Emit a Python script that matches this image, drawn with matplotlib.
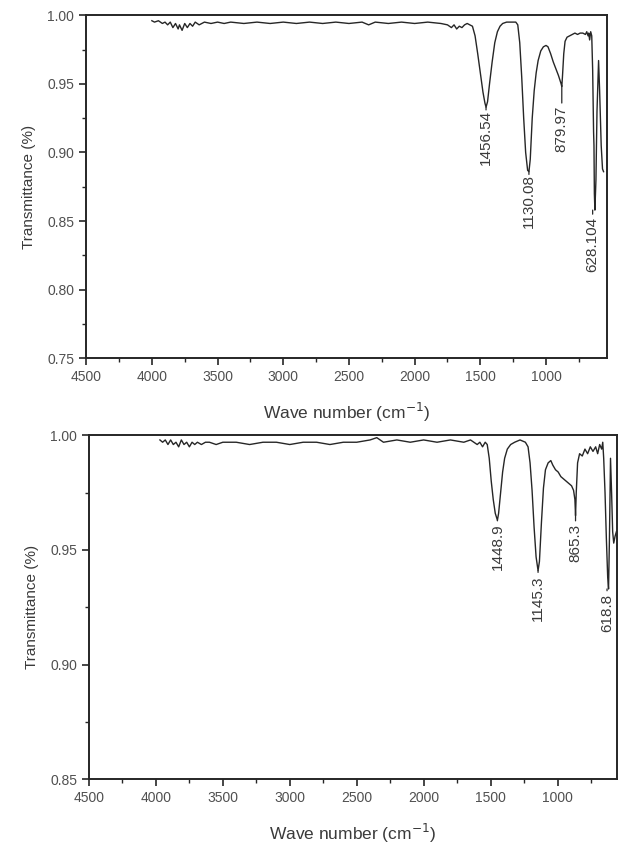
import matplotlib
matplotlib.use("Agg")

import matplotlib.pyplot as plt
from matplotlib.ticker import MultipleLocator, FormatStrFormatter

plt.rcParams['font.family'] = ['Liberation Sans', 'DejaVu Sans']

# upper spectrum (wavenumber cm-1, transmittance)
top_wn = [4000, 3980, 3950, 3920, 3900, 3880, 3860, 3840, 3820, 3800, 3790, 3770,
          3750, 3730, 3710, 3690, 3670, 3640, 3600, 3550, 3500, 3450, 3400, 3300,
          3200, 3100, 3000, 2900, 2800, 2700, 2600, 2500, 2400, 2350, 2300, 2200,
          2100, 2000, 1900, 1800, 1750, 1720, 1700, 1680, 1660, 1640, 1620, 1600,
          1580, 1560, 1540, 1520, 1500, 1480, 1465, 1456.54, 1445, 1430, 1410, 1390,
          1370, 1350, 1330, 1300, 1260, 1230, 1215, 1200, 1185, 1170, 1155, 1140,
          1130, 1120, 1105, 1090, 1075, 1060, 1040, 1020, 1000, 985, 965, 945,
          925, 905, 895, 885, 880, 875, 865, 855, 840, 820, 800, 780,
          760, 740, 720, 700, 690, 680, 675, 668, 660, 652, 645, 638,
          635, 632, 628, 620, 612, 600, 592, 580, 570, 562]
top_tr = [0.996, 0.995, 0.996, 0.994, 0.995, 0.993, 0.995, 0.991, 0.994, 0.990, 0.993, 0.989,
          0.994, 0.991, 0.994, 0.992, 0.995, 0.993, 0.995, 0.994, 0.995, 0.994, 0.995, 0.994,
          0.995, 0.994, 0.995, 0.994, 0.995, 0.994, 0.995, 0.994, 0.995, 0.993, 0.995, 0.994,
          0.995, 0.994, 0.995, 0.994, 0.993, 0.991, 0.993, 0.990, 0.992, 0.991, 0.993, 0.994,
          0.993, 0.992, 0.985, 0.972, 0.958, 0.944, 0.936, 0.933, 0.937, 0.950, 0.966, 0.980,
          0.988, 0.992, 0.994, 0.995, 0.995, 0.995, 0.993, 0.980, 0.955, 0.925, 0.900, 0.887,
          0.886, 0.895, 0.925, 0.945, 0.958, 0.967, 0.974, 0.977, 0.978, 0.977, 0.972, 0.966,
          0.961, 0.956, 0.953, 0.950, 0.948, 0.955, 0.972, 0.981, 0.984, 0.985, 0.986, 0.987,
          0.986, 0.987, 0.987, 0.986, 0.988, 0.985, 0.987, 0.982, 0.988, 0.985, 0.960, 0.915,
          0.905, 0.870, 0.858, 0.880, 0.930, 0.967, 0.945, 0.905, 0.888, 0.886]

# lower spectrum
bot_wn = [3970, 3950, 3930, 3910, 3890, 3870, 3850, 3830, 3810, 3790, 3770, 3750,
          3730, 3710, 3690, 3660, 3630, 3600, 3550, 3500, 3400, 3300, 3200, 3100,
          3000, 2900, 2800, 2700, 2600, 2500, 2400, 2350, 2300, 2200, 2100, 2000,
          1900, 1800, 1700, 1650, 1600, 1580, 1560, 1540, 1525, 1510, 1495, 1480,
          1465, 1448.9, 1440, 1425, 1410, 1395, 1375, 1350, 1320, 1280, 1240, 1220,
          1205, 1190, 1175, 1160, 1145.3, 1135, 1120, 1105, 1090, 1070, 1050, 1035,
          1015, 995, 975, 955, 935, 915, 895, 880, 870, 865.3, 860, 850,
          835, 815, 795, 775, 755, 735, 715, 700, 685, 670, 662, 655,
          645, 635, 625, 618.8, 612, 604, 596, 588, 580, 570, 560]
bot_tr = [0.998, 0.997, 0.998, 0.996, 0.998, 0.996, 0.997, 0.995, 0.998, 0.996, 0.997, 0.995,
          0.997, 0.996, 0.997, 0.996, 0.997, 0.997, 0.996, 0.997, 0.997, 0.996, 0.997, 0.997,
          0.996, 0.997, 0.997, 0.996, 0.997, 0.997, 0.998, 0.999, 0.997, 0.998, 0.997, 0.998,
          0.997, 0.998, 0.997, 0.998, 0.996, 0.997, 0.995, 0.997, 0.996, 0.990, 0.980, 0.972,
          0.966, 0.963, 0.966, 0.975, 0.984, 0.990, 0.994, 0.996, 0.997, 0.998, 0.997, 0.995,
          0.988, 0.976, 0.960, 0.947, 0.941, 0.945, 0.962, 0.977, 0.985, 0.988, 0.989, 0.987,
          0.985, 0.984, 0.982, 0.981, 0.980, 0.979, 0.978, 0.976, 0.972, 0.965, 0.975, 0.988,
          0.992, 0.991, 0.994, 0.992, 0.995, 0.993, 0.995, 0.992, 0.996, 0.994, 0.997, 0.990,
          0.975, 0.955, 0.938, 0.933, 0.955, 0.990, 0.975, 0.958, 0.953, 0.956, 0.958]

# peak labels: (position, curve value, label top value, text)
top_peaks = [(1456.54, 0.933, 0.931, "1456.54"), (1130.08, 0.886, 0.884, "1130.08"),
             (879.97, 0.948, 0.934, "879.97"), (645, 0.858, 0.853, "628.104")]
bot_peaks = [(1448.9, 0.963, 0.9615, "1448.9"), (1145.3, 0.941, 0.939, "1145.3"),
             (865.3, 0.965, 0.9615, "865.3"), (630, 0.933, 0.931, "618.8")]

LINE = '#262626'
TEXT = '#3a3a3a'


def draw_panel(ax, wn, tr, peaks, ylim, xmin):
    ax.plot(wn, tr, color=LINE, linewidth=1.0)
    for x, yc, yl, txt in peaks:
        ax.annotate(txt, xy=(x, yc), xytext=(x, yl), rotation=90,
                    ha='center', va='top', fontsize=11, color=TEXT,
                    arrowprops=dict(arrowstyle='-', color=LINE, lw=0.9,
                                    shrinkA=0, shrinkB=0, relpos=(0.5, 1.0)))
    ax.set_xlim(4500, xmin)
    ax.set_ylim(*ylim)
    ax.xaxis.set_major_locator(MultipleLocator(500))
    ax.xaxis.set_minor_locator(MultipleLocator(250))
    ax.yaxis.set_major_locator(MultipleLocator(0.05))
    ax.yaxis.set_minor_locator(MultipleLocator(0.025))
    ax.yaxis.set_major_formatter(FormatStrFormatter('%.2f'))
    ax.tick_params(which='major', direction='out', length=5, width=1.2,
                   labelsize=10, labelcolor='#505050', color=LINE)
    ax.tick_params(which='minor', direction='out', length=3, width=1.0, color=LINE)
    for s in ax.spines.values():
        s.set_linewidth(1.4)
        s.set_color(LINE)
    ax.set_xlabel('Wave number (cm$^{-1}$)', fontsize=12.5, color=TEXT, labelpad=12)
    ax.set_ylabel('Transmittance (%)', fontsize=11, color=TEXT, labelpad=8)


fig = plt.figure(figsize=(6.2, 8.47), dpi=100)
ax1 = fig.add_axes([0.139, 0.577, 0.840, 0.405])
ax2 = fig.add_axes([0.1435, 0.080, 0.852, 0.406])

draw_panel(ax1, top_wn, top_tr, top_peaks, (0.75, 1.00), 536)
draw_panel(ax2, bot_wn, bot_tr, bot_peaks, (0.85, 1.00), 554)

fig.savefig('out.png', dpi=100)
